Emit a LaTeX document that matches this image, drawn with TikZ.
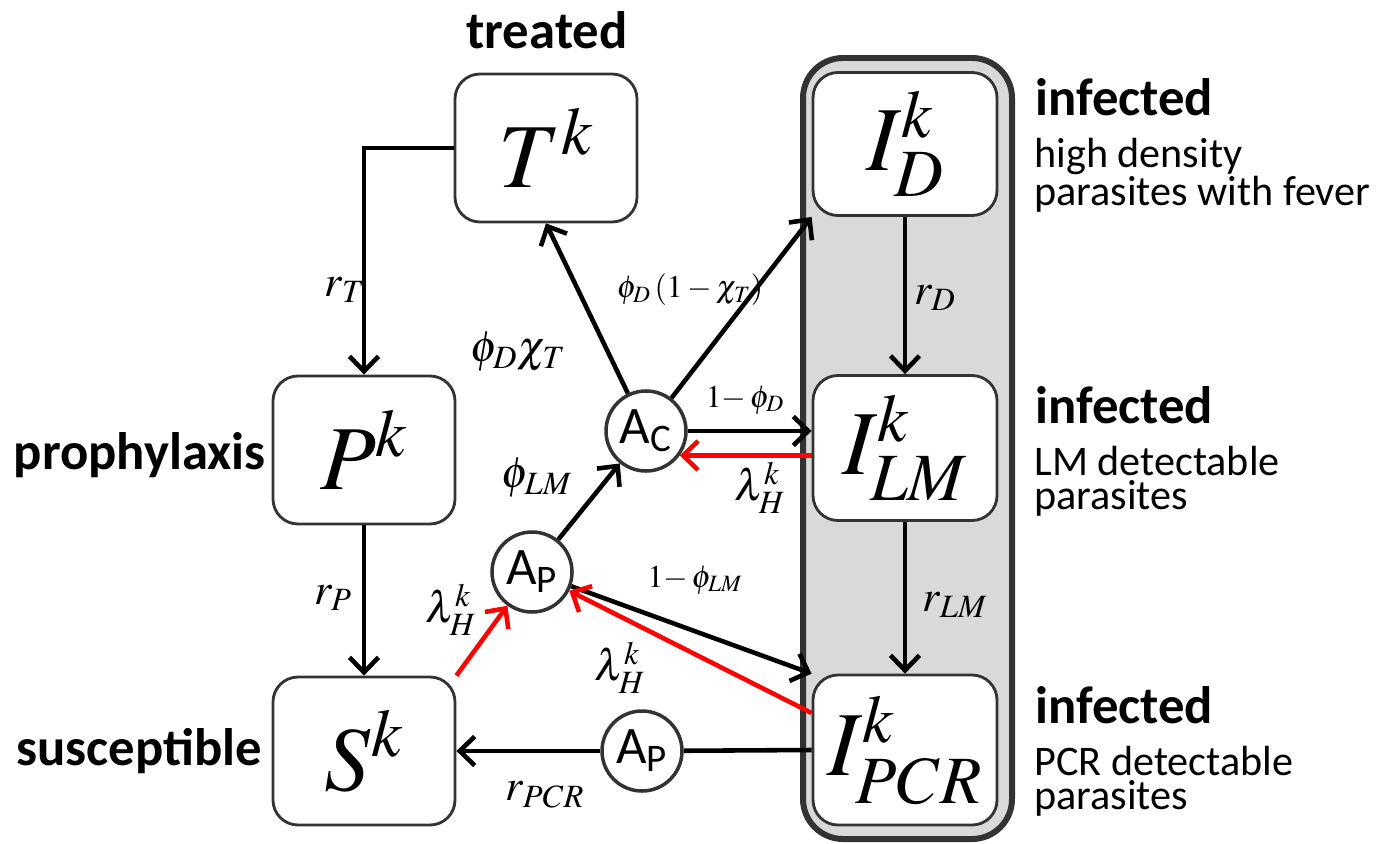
\documentclass[tikz,border=0pt]{standalone}
\usepackage{mathptmx}
\usepackage{fontspec}
\setmainfont{Carlito}
\usetikzlibrary{arrows.meta,positioning}

\begin{document}
\begin{tikzpicture}[
        comp/.style={rectangle, rounded corners=0.5cm, draw=black!80, line width=1.6pt, fill=white, minimum width=3.64cm, minimum height=2.96cm, font=\fontsize{52}{60}\selectfont},
        agent/.style={circle, draw=black!80, line width=2pt, fill=white, minimum size=1.6cm, inner sep=0pt, font=\fontsize{30}{34}\selectfont},
        flow/.style={-{Straight Barb[length=3mm,width=5.8mm]}, line width=2.6pt},
        rate/.style={font=\fontsize{25}{28}\selectfont, inner sep=1pt},
        smallrate/.style={font=\fontsize{18}{20}\selectfont, inner sep=1pt},
        title/.style={font=\fontsize{30}{34}\selectfont\bfseries},
        desc/.style={font=\fontsize{24}{19.5}\selectfont, align=left, anchor=north west, inner sep=0pt}]

    \useasboundingbox (0,0) rectangle (27.78,-16.86);

    % infected group
    \draw[line width=3.4pt, draw=black!80, fill=black!15, rounded corners=0.8cm] (16.06,-1.16) rectangle (20.24,-16.78);

    % compartments
    \node[comp] (T) at (10.92,-2.96) {$T^k$};
    \node[comp] (P) at (7.28,-9.0) {$P^k$};
    \node[comp] (S) at (7.28,-15.02) {$S^k$};
    \node[comp, minimum width=3.68cm, minimum height=2.86cm] (ID) at (18.1,-2.88) {$I^k_D$};
    \node[comp, minimum width=3.68cm, minimum height=2.9cm] (ILM) at (18.1,-8.96) {$I^k_{LM}$};
    \node[comp, minimum width=3.68cm, minimum height=3.0cm] (IPCR) at (18.1,-15.0) {$I^k_{PCR}$};

    % asymptomatic carriers
    \node[agent] (AC) at (12.92,-8.62) {A\textsubscript{C}};
    \node[agent] (AP) at (10.64,-11.44) {A\textsubscript{P}};
    \node[agent] (AP2) at (12.84,-15.02) {A\textsubscript{P}};

    % labels
    \node[title] (treated) at (10.94,-0.6) {treated};
    \node[title, anchor=east] (proph) at (5.44,-9.1) {prophylaxis};
    \node[title, anchor=east] (susc) at (5.36,-15.02) {susceptible};
    \node[title, anchor=west] (infD) at (20.58,-1.94) {infected};
    \node[desc] (descD) at (20.68,-2.76) {high density\\parasites with fever};
    \node[title, anchor=west] (infLM) at (20.58,-8.1) {infected};
    \node[desc] (descLM) at (20.68,-8.92) {LM detectable\\parasites};
    \node[title, anchor=west] (infPCR) at (20.58,-14.1) {infected};
    \node[desc] (descPCR) at (20.68,-14.92) {PCR detectable\\parasites};

    % flows
    \draw[flow] (T.west) -| (P.north);
    \draw[flow] (P) -- (S);
    \draw[flow] (AC) -- (T.south);
    \draw[flow] (AC) -- (ID.south west);
    \draw[flow] (AC.east) -- (AC.east -| ILM.west);
    \draw[flow, red] (ILM.west |- AC.-36) -- (AC.-36);
    \draw[flow] (ID) -- (ILM);
    \draw[flow] (ILM) -- (IPCR);
    \draw[flow] (AP) -- (AC);
    \draw[flow] (AP) -- (IPCR.north west);
    \draw[flow, red] ([yshift=0.74cm]IPCR.west) -- (AP);
    \draw[flow, red] (S.north east) -- (AP);
    \draw[line width=2.6pt] (IPCR.west) -- (AP2);
    \draw[flow] (AP2) -- (S.east);

    % rates
    \node[rate] (rT) at (6.9,-5.8) {$r_T$};
    \node[rate] (rP) at (6.66,-11.96) {$r_P$};
    \node[rate] (rD) at (18.7,-5.96) {$r_D$};
    \node[rate] (rLM) at (19.1,-12.1) {$r_{LM}$};
    \node[rate] (rPCR) at (10.9,-15.9) {$r_{PCR}$};
    \node[rate] (phiT) at (10.36,-7.04) {$\phi_D\chi_T$};
    \node[smallrate] (phiD) at (13.8,-5.8) {$\phi_D\left(1-\chi_T\right)$};
    \node[smallrate] (notD) at (14.9,-8.0) {$1{-}\,\phi_D$};
    \node[rate] (phiLM) at (10.74,-9.56) {$\phi_{LM}$};
    \node[smallrate] (notLM) at (13.9,-11.6) {$1{-}\,\phi_{LM}$};
    \node[rate] (lamLM) at (15.2,-9.76) {$\lambda^k_H$};
    \node[rate] (lamPCR) at (12.4,-13.36) {$\lambda^k_H$};
    \node[rate] (lamS) at (9.02,-12.2) {$\lambda^k_H$};
\end{tikzpicture}
\end{document}
